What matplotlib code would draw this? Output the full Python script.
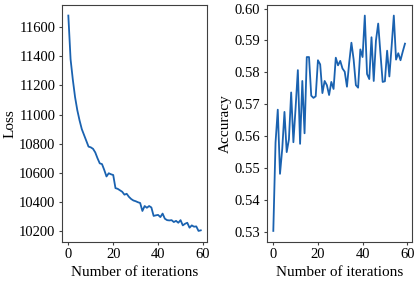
import numpy as np
import matplotlib
matplotlib.use('Agg')
import matplotlib.pyplot as plt

plt.rcParams['font.family'] = ['Liberation Serif', 'DejaVu Serif']
plt.rcParams['mathtext.fontset'] = 'stix'

iterations = np.arange(60)

loss = [11680, 11380, 11240, 11120, 11030, 10960, 10900, 10860, 10820, 10780,
        10775, 10765, 10740, 10700, 10665, 10660, 10620, 10575, 10597, 10590,
        10585, 10495, 10490, 10480, 10470, 10450, 10456, 10435, 10420, 10410,
        10405, 10398, 10393, 10338, 10372, 10360, 10372, 10362, 10304, 10308,
        10311, 10296, 10320, 10285, 10275, 10273, 10275, 10262, 10270, 10257,
        10275, 10239, 10250, 10257, 10223, 10239, 10230, 10232, 10201, 10205]

accuracy = [0.5303, 0.5580, 0.5683, 0.5482, 0.5560, 0.5676, 0.5550, 0.5590, 0.5737, 0.5581,
            0.5690, 0.5807, 0.5576, 0.5773, 0.5609, 0.5848, 0.5848, 0.5727, 0.5720, 0.5725,
            0.5838, 0.5825, 0.5735, 0.5773, 0.5760, 0.5729, 0.5770, 0.5748, 0.5846, 0.5822,
            0.5836, 0.5812, 0.5802, 0.5755, 0.5830, 0.5893, 0.5840, 0.5760, 0.5752, 0.5872,
            0.5848, 0.5978, 0.5795, 0.5779, 0.5910, 0.5773, 0.5900, 0.5953, 0.5860, 0.5770,
            0.5772, 0.5868, 0.5787, 0.5880, 0.5978, 0.5840, 0.5860, 0.5838, 0.5865, 0.5890]

line_color = '#1a62b0'

fig = plt.figure(figsize=(4.15, 2.83), dpi=100)
ax1 = fig.add_axes([0.1487, 0.146, 0.351, 0.837])
ax2 = fig.add_axes([0.6427, 0.146, 0.349, 0.837])

ax1.plot(iterations, loss, color=line_color, linewidth=1.3)
ax1.set_xlabel('Number of iterations', fontsize=11, labelpad=3.5)
ax1.set_ylabel('Loss', fontsize=11, labelpad=2)
ax1.set_xticks([0, 20, 40, 60])
ax1.set_yticks(np.arange(10200, 11601, 200))

ax2.plot(iterations, accuracy, color=line_color, linewidth=1.3)
ax2.set_xlabel('Number of iterations', fontsize=11, labelpad=3.5)
ax2.set_ylabel('Accuracy', fontsize=11, labelpad=2)
ax2.set_xticks([0, 20, 40, 60])
ax2.set_yticks(np.arange(0.53, 0.6001, 0.01))
ax2.yaxis.set_major_formatter(matplotlib.ticker.FormatStrFormatter('%.2f'))

for ax in (ax1, ax2):
    ax.tick_params(labelsize=10.5, color='#404040', length=2.5, pad=2)
    for s in ax.spines.values():
        s.set_color('#404040')

fig.savefig('out.png', dpi=100)
